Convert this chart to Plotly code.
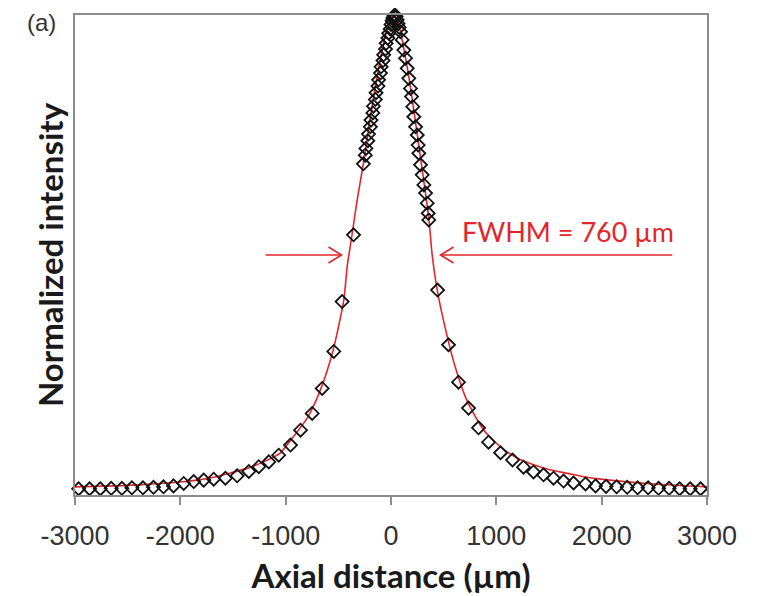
import plotly.graph_objects as go

# Measured points (axial distance in µm, normalized intensity)
meas_x = [-2966, -2862, -2760, -2656, -2555, -2460, -2355, -2255, -2160, -2065,
          -1968, -1873, -1778, -1683, -1572, -1461, -1350, -1255, -1160, -1066,
          -954, -859, -748, -653, -543, -464, -356,
          -262, -244, -238, -220, -214, -196, -190, -172, -166, -148, -142, -124,
          -118, -100, -94, -76, -70, -52, -46, -30, -22, -8, 0, 10, 18, 28, 38,
          48, 58, 68, 78,
          90, 106, 122, 138, 154, 169, 185, 195, 207, 217, 233, 249, 258, 264,
          280, 296, 312, 328, 344, 353, 359,
          442, 546, 641, 736, 831, 926, 1040, 1154, 1258, 1353, 1448, 1543, 1638,
          1733, 1847, 1942, 2042, 2142, 2242, 2341, 2441, 2540, 2640, 2740, 2840, 2939]
meas_y = [0.013, 0.013, 0.013, 0.014, 0.014, 0.015, 0.015, 0.016, 0.017, 0.019,
          0.024, 0.028, 0.031, 0.033, 0.035, 0.040, 0.049, 0.059, 0.069, 0.083,
          0.104, 0.135, 0.170, 0.222, 0.299, 0.403, 0.542,
          0.690, 0.708, 0.722, 0.738, 0.752, 0.767, 0.781, 0.796, 0.810, 0.824, 0.838, 0.852,
          0.865, 0.879, 0.892, 0.905, 0.917, 0.929, 0.941, 0.952, 0.962, 0.971, 0.980, 0.988, 0.994, 0.998, 1.000,
          0.997, 0.990, 0.982, 0.974,
          0.965, 0.948, 0.927, 0.910, 0.889, 0.868, 0.847, 0.830, 0.809, 0.788, 0.767, 0.750, 0.729, 0.712,
          0.688, 0.667, 0.646, 0.629, 0.608, 0.587, 0.573,
          0.427, 0.313, 0.235, 0.181, 0.140, 0.110, 0.088, 0.073, 0.058, 0.048, 0.042, 0.035, 0.029,
          0.025, 0.023, 0.019, 0.018, 0.017, 0.016, 0.015, 0.015, 0.014, 0.014, 0.013, 0.013, 0.013]

# Fitted curve
fit_x = [-3000, -2500, -2000, -1840, -1685, -1524, -1361, -1211, -1049, -938, -796, -670,
         -549, -448, -416, -368, -321, -255, -200, -150, -100, -50, 0, 25, 60, 90, 170,
         250, 330, 360, 391, 439, 534, 612, 724, 881, 1040, 1198, 1353, 1515, 1678, 1828,
         1990, 2500, 3000]
fit_y = [0.017, 0.020, 0.027, 0.031, 0.037, 0.046, 0.056, 0.069, 0.088, 0.118, 0.160, 0.219,
         0.302, 0.406, 0.476, 0.545, 0.615, 0.700, 0.780, 0.850, 0.910, 0.960, 0.990, 1.000, 0.990, 0.965, 0.870,
         0.750, 0.625, 0.575, 0.500, 0.427, 0.330, 0.265, 0.195, 0.135, 0.100, 0.077, 0.063, 0.052, 0.045, 0.038,
         0.033, 0.023, 0.017]

x_ticks = [-3000, -2000, -1000, 0, 1000, 2000, 3000]
x_tick_text = ["-3000", "-2000", "-1000", "0", "1000", "2000", "3000"]
fwhm_label = "FWHM = 760 µm"
half_max = 0.5
arrow_tips = [-470, 470]
arrow_tails = [-1190, 2670]

RED = "#e3262b"
AX = "#8c8c8c"

fig = go.Figure()
fig.add_trace(go.Scatter(x=fit_x, y=fit_y, mode="lines",
                         line=dict(color=RED, width=1.6, shape="spline", smoothing=0.6),
                         hoverinfo="skip", showlegend=False))
fig.add_trace(go.Scatter(x=meas_x, y=meas_y, mode="markers",
                         marker=dict(symbol="diamond-open", size=10, color="#111111",
                                     line=dict(width=1.8, color="#111111")),
                         cliponaxis=False, showlegend=False))

# FWHM arrows: shaft lines + open chevrons
for tip, tail, d in [(arrow_tips[0], arrow_tails[0], 1), (arrow_tips[1], arrow_tails[1], -1)]:
    fig.add_shape(type="line", x0=tail, x1=tip, y0=half_max, y1=half_max,
                  line=dict(color=RED, width=1.6))
    fig.add_shape(type="path", xref="x", yref="y", xsizemode="pixel", ysizemode="pixel",
                  xanchor=tip, yanchor=half_max,
                  path=f"M {-13*d} 8 L 0 0 L {-13*d} -8",
                  line=dict(color=RED, width=1.6))

fig.add_annotation(x=652, y=0.548, text=fwhm_label,
                   showarrow=False, xanchor="left", yanchor="middle",
                   font=dict(family="Lato", size=27, color=RED))
fig.add_annotation(x=-0.053, y=0.985, xref="paper", yref="paper", text="(a)",
                   showarrow=False, xanchor="center", yanchor="middle",
                   font=dict(family="Liberation Sans", size=24, color="#333333"))

# page body has an 8px margin, so the figure is sized/offset to compensate
fig.update_layout(
    width=756, height=588,
    margin=dict(l=67, r=57, t=7, b=101),
    paper_bgcolor="white", plot_bgcolor="white",
    xaxis=dict(range=[-3000, 3000], tickvals=x_ticks, ticktext=x_tick_text,
               ticks="outside", ticklen=8, automargin=False, ticklabelstandoff=8,
               tickcolor=AX, tickwidth=1.5, showline=True, linecolor=AX, linewidth=1.5,
               mirror=True, showgrid=False, zeroline=False,
               tickfont=dict(family="Liberation Sans", size=27, color="#333333"),
               title=dict(text="<b>Axial distance (µm)</b>", standoff=15,
                          font=dict(family="Lato", size=33, color="#1a1a1a"))),
    yaxis=dict(range=[0, 1.0], showticklabels=False, ticks="", showline=True,
               automargin=False,
               linecolor=AX, linewidth=1.5, mirror=True, showgrid=False, zeroline=False,
               title=dict(text="<b>Normalized intensity</b>", standoff=0,
                          font=dict(family="Lato", size=33, color="#1a1a1a"))),
)

fig.write_html("out.html")
